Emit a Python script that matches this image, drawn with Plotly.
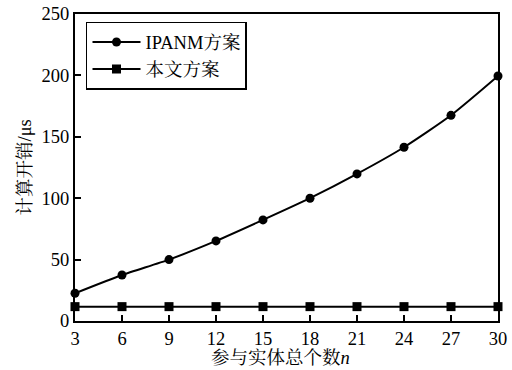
import plotly.graph_objects as go

n_values = [3, 6, 9, 12, 15, 18, 21, 24, 27, 30]
ipanm_cost = [22.6, 37.5, 50, 65.2, 82.3, 100, 119.8, 141.5, 167.5, 199.5]
ours_cost = [11.7, 11.7, 11.7, 11.7, 11.7, 11.7, 11.7, 11.7, 11.7, 11.7]
y_ticks = [0, 50, 100, 150, 200, 250]
x_title = "参与实体总个数<i>n</i>"
y_title = "计算开销/μs"

FONT = "Liberation Serif, Times New Roman, Noto Serif CJK SC, Noto Sans CJK SC, serif"

fig = go.Figure()
fig.add_trace(go.Scatter(
    x=n_values, y=ipanm_cost, name="IPANM方案", mode="lines+markers",
    line=dict(color="black", width=2, shape="spline", smoothing=0.6),
    marker=dict(symbol="circle", size=9, color="black"),
    cliponaxis=False,
))
fig.add_trace(go.Scatter(
    x=n_values, y=ours_cost, name="本文方案", mode="lines+markers",
    line=dict(color="black", width=2),
    marker=dict(symbol="square", size=9, color="black"),
    cliponaxis=False,
))

fig.update_layout(
    width=512, height=370,
    margin=dict(l=75, r=14, t=14, b=49),
    paper_bgcolor="white", plot_bgcolor="white",
    font=dict(family=FONT, size=18.5, color="black"),
    showlegend=True,
    legend=dict(
        x=0.026, y=0.974, xanchor="left", yanchor="top",
        bordercolor="black", borderwidth=1.5, bgcolor="white",
        font=dict(size=18.5), itemwidth=48, tracegroupgap=0,
    ),
    xaxis=dict(
        range=[3, 30], tickvals=n_values, ticktext=[str(v) for v in n_values],
        showline=True, linecolor="black", linewidth=2, mirror=True,
        ticks="inside", ticklen=6, tickwidth=1.5, tickcolor="black",
        showgrid=False, zeroline=False, automargin=False,
        ticklabeloverflow="allow", tickfont=dict(size=18.5),
    ),
    yaxis=dict(
        range=[0, 250], tickvals=y_ticks,
        showline=True, linecolor="black", linewidth=2, mirror=True,
        ticks="inside", ticklen=6, tickwidth=1.5, tickcolor="black",
        showgrid=False, zeroline=False, automargin=False,
        ticklabeloverflow="allow", tickfont=dict(size=18.5),
    ),
    annotations=[
        dict(text=x_title, xref="paper", yref="paper", x=0.485, y=0,
             xanchor="center", yanchor="middle", yshift=-37, showarrow=False,
             font=dict(size=18.5, color="black")),
        dict(text=y_title, xref="paper", yref="paper", x=0, y=0.5,
             xanchor="center", yanchor="middle", xshift=-51, textangle=-90,
             showarrow=False, font=dict(size=18.5, color="black")),
    ],
)

# remove the default 8px page margin so the 512x370 figure fills the window
fig.write_html("out.html", config={"displayModeBar": False},
               post_script="document.body.style.margin='0';")
